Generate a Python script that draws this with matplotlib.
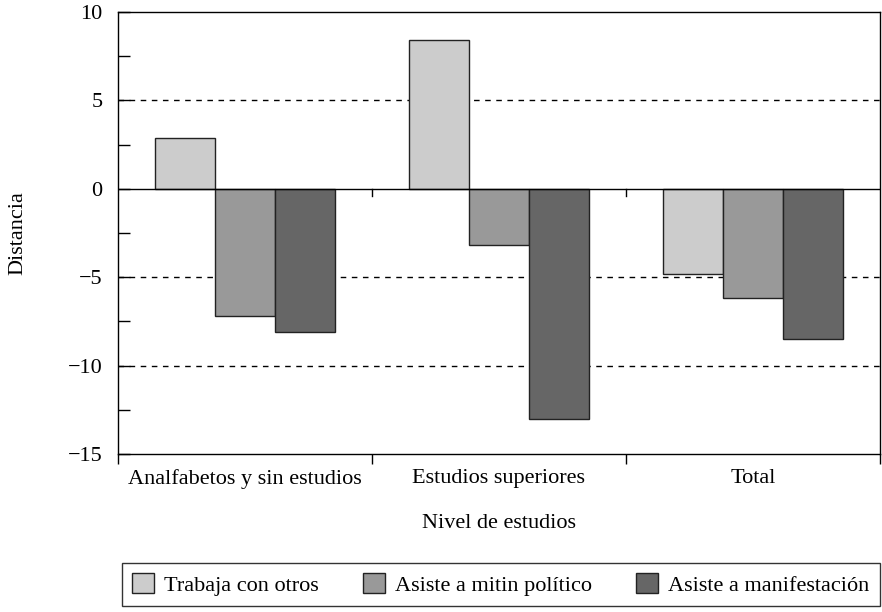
import numpy as np
import matplotlib.pyplot as plt
from matplotlib.ticker import MultipleLocator

plt.rcParams['font.family'] = ['Liberation Serif', 'DejaVu Serif']

categorias = ['Analfabetos y sin estudios', 'Estudios superiores', 'Total']
series = ['Trabaja con otros', 'Asiste a mitin político', 'Asiste a manifestación']
trabaja = [2.9, 8.4, -4.8]
mitin = [-7.2, -3.2, -6.2]
manifestacion = [-8.1, -13.0, -8.5]
colores = ['#cccccc', '#999999', '#666666']

fig = plt.figure(figsize=(8.82, 6.12), dpi=100)
ax = fig.add_axes([118/882, 1-454/612, 762/882, 442/612])

x = np.arange(len(categorias))
w = 0.236
for i, (vals, nombre) in enumerate(zip([trabaja, mitin, manifestacion], series)):
    ax.bar(x + (i-1)*w, vals, w, color=colores[i], edgecolor='#222222',
           linewidth=1, label=nombre, zorder=3)

ax.set_xlim(-0.5, 2.5)
ax.set_ylim(-15, 10)
for yv in [5, -5, -10]:
    ax.axhline(yv, color='black', linestyle=(0, (4, 4)), linewidth=1, zorder=1)
ax.axhline(0, color='black', linewidth=1, zorder=4)
# marcas de categoria sobre el eje en cero
for xb in [0.5, 1.5]:
    ax.plot([xb, xb], [0, -0.4], color='black', linewidth=1, zorder=4)

ax.yaxis.set_minor_locator(MultipleLocator(2.5))
ax.set_yticks([-15, -10, -5, 0, 5, 10])
ax.set_yticklabels(['\u221215', '\u221210', '\u22125', '0', '5', '10'])
ax.tick_params(axis='y', which='both', direction='in', length=8.5, width=1,
               labelsize=16, pad=11)

ax.set_xticks([-0.5, 0.5, 1.5, 2.5])
ax.set_xticklabels([])
ax.set_xticks(x, minor=True)
ax.set_xticklabels(categorias, minor=True)
ax.tick_params(axis='x', which='major', direction='out', length=7, width=1)
ax.tick_params(axis='x', which='minor', length=0, labelsize=16, pad=11)

for s in ax.spines.values():
    s.set_linewidth(1)

ax.set_ylabel('Distancia', fontsize=16, labelpad=29)
ax.set_xlabel('Nivel de estudios', fontsize=16, labelpad=18)

leg = fig.legend(loc='upper left', bbox_to_anchor=(122/882, 1-563/612),
                 ncol=3, fontsize=16, frameon=True, fancybox=False,
                 edgecolor='black', handlelength=1.0, handleheight=1.0,
                 handletextpad=0.45, columnspacing=1.98, borderpad=0.45,
                 borderaxespad=0)
leg.get_frame().set_linewidth(1)

fig.savefig('out.png', dpi=100)
